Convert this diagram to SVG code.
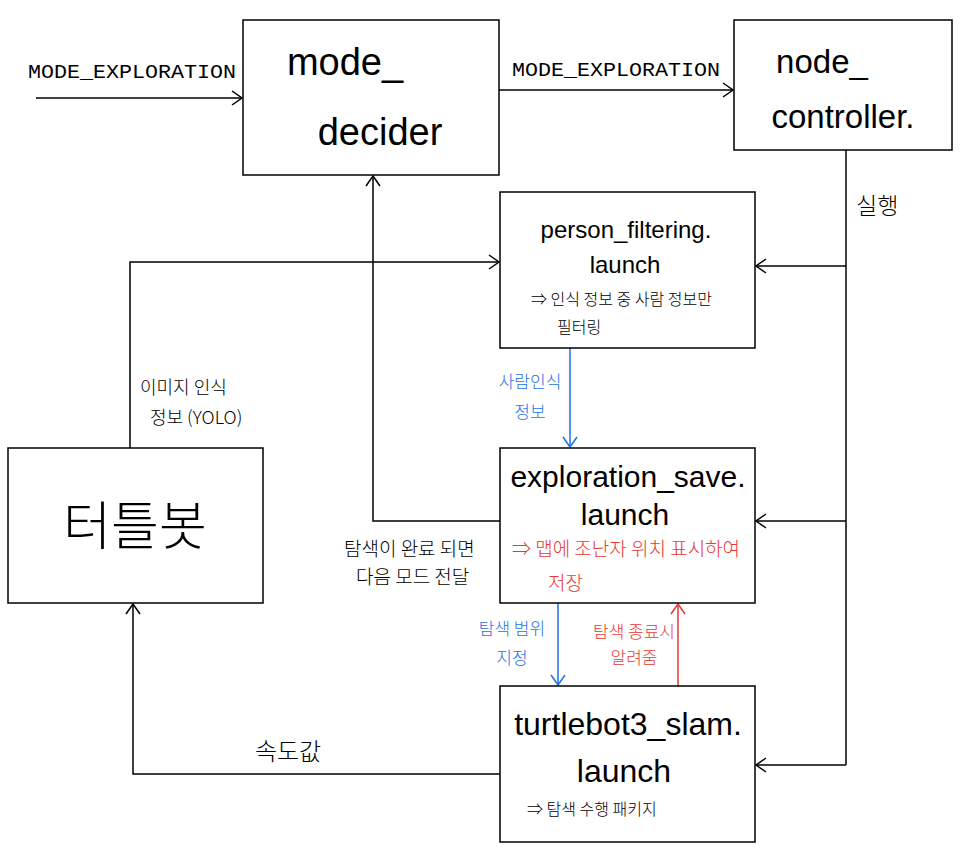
<svg xmlns="http://www.w3.org/2000/svg" width="960" height="852" viewBox="0 0 960 852">
<defs>
<style>
.box{fill:#fff;stroke:#000;stroke-width:1.5}
.ln{fill:none;stroke:#000;stroke-width:1.5}
.blue{fill:none;stroke:#1a73e8;stroke-width:1.5}
.red{fill:none;stroke:#e53935;stroke-width:1.5}
text{font-family:"Liberation Sans","Noto Sans CJK KR",sans-serif;fill:#000}
.t{font-weight:300}
.ko{font-family:"Noto Sans CJK KR",sans-serif;font-weight:300}
.kb{fill:#1a73e8}
.kr{fill:#e53935}
.lbl{font-family:"Liberation Mono","Noto Sans CJK KR",monospace;font-size:20px}
</style>
<marker id="ab" viewBox="0 0 12 16" refX="11" refY="8" markerWidth="12" markerHeight="16" markerUnits="userSpaceOnUse" orient="auto"><path d="M1,1 L11,8 L1,15" fill="none" stroke="#000" stroke-width="1.5"/></marker>
<marker id="abb" viewBox="0 0 12 16" refX="11" refY="8" markerWidth="12" markerHeight="16" markerUnits="userSpaceOnUse" orient="auto"><path d="M1,1 L11,8 L1,15" fill="none" stroke="#1a73e8" stroke-width="1.5"/></marker>
<marker id="abr" viewBox="0 0 12 16" refX="11" refY="8" markerWidth="12" markerHeight="16" markerUnits="userSpaceOnUse" orient="auto"><path d="M1,1 L11,8 L1,15" fill="none" stroke="#e53935" stroke-width="1.5"/></marker>
</defs>
<rect width="960" height="852" fill="#fff"/>

<g id="connectors">
<path class="ln" d="M36,98 H242" marker-end="url(#ab)"/>
<path class="ln" d="M499,90 H733" marker-end="url(#ab)"/>
<path class="ln" d="M846,150 V765"/>
<path class="ln" d="M846,266 H756" marker-end="url(#ab)"/>
<path class="ln" d="M846,521 H756" marker-end="url(#ab)"/>
<path class="ln" d="M846,765 H756" marker-end="url(#ab)"/>
<path class="ln" d="M130,448 V262 H499" marker-end="url(#ab)"/>
<path class="blue" d="M570,348 V447" marker-end="url(#abb)"/>
<path class="ln" d="M500,521 H373 V176" marker-end="url(#ab)"/>
<path class="blue" d="M558,603 V685" marker-end="url(#abb)"/>
<path class="red" d="M678,686 V604" marker-end="url(#abr)"/>
<path class="ln" d="M500,774 H133 V604" marker-end="url(#ab)"/>
<text class="lbl" x="28" y="78" textLength="208" lengthAdjust="spacingAndGlyphs">MODE_EXPLORATION</text>
<text class="lbl" x="512" y="76" textLength="208" lengthAdjust="spacingAndGlyphs">MODE_EXPLORATION</text>
<text class="ko" x="856" y="214" font-size="23">실행</text>
<text class="ko" x="140" y="394" font-size="18">이미지 인식</text>
<text class="ko" x="150" y="424" font-size="18">정보 (YOLO)</text>
<text class="ko kb" x="530" y="388" font-size="17" text-anchor="middle">사람인식</text>
<text class="ko kb" x="530" y="418" font-size="17" text-anchor="middle">정보</text>
<text class="ko" x="344" y="556" font-size="19">탐색이 완료 되면</text>
<text class="ko" x="356" y="584" font-size="19">다음 모드 전달</text>
<text class="ko kb" x="512" y="635" font-size="17" text-anchor="middle">탐색  범위</text>
<text class="ko kb" x="512" y="664" font-size="17" text-anchor="middle">지정</text>
<text class="ko kr" x="634" y="638" font-size="17" text-anchor="middle">탐색 종료시</text>
<text class="ko kr" x="634" y="664" font-size="17" text-anchor="middle">알려줌</text>
<text class="ko" x="288" y="760" font-size="24" text-anchor="middle">속도값</text>
</g>

<g id="mode_decider">
<rect class="box" x="243" y="20" width="256" height="155"/>
<text class="t" x="345" y="75" font-size="38" text-anchor="middle">mode_</text>
<text class="t" x="380" y="145" font-size="38" text-anchor="middle">decider</text>
</g>

<g id="node_controller">
<rect class="box" x="734" y="20" width="218" height="130"/>
<text class="t" x="822" y="73" font-size="33" text-anchor="middle">node_</text>
<text class="t" x="843" y="128" font-size="33" text-anchor="middle">controller.</text>
</g>

<g id="person_filtering">
<rect class="box" x="500" y="192" width="255" height="156"/>
<text class="t" x="626" y="238" font-size="24" text-anchor="middle">person_filtering.</text>
<text class="t" x="625" y="273" font-size="24" text-anchor="middle">launch</text>
<text class="ko" x="531" y="305" font-size="16">⇒ 인식 정보 중  사람 정보만</text>
<text class="ko" x="557" y="333" font-size="16">필터링</text>
</g>

<g id="exploration_save">
<rect class="box" x="500" y="448" width="255" height="155"/>
<text class="t" x="628" y="487" font-size="30" text-anchor="middle">exploration_save.</text>
<text class="t" x="625" y="525" font-size="30" text-anchor="middle">launch</text>
<text class="ko kr" x="512" y="556" font-size="19">⇒ 맵에 조난자 위치 표시하여</text>
<text class="ko kr" x="548" y="590" font-size="19">저장</text>
</g>

<g id="turtlebot3_slam">
<rect class="box" x="500" y="686" width="255" height="156"/>
<text class="t" x="628" y="735" font-size="32" text-anchor="middle">turtlebot3_slam.</text>
<text class="t" x="624" y="782" font-size="32" text-anchor="middle">launch</text>
<text class="ko" x="527" y="815" font-size="16">⇒ 탐색 수행  패키지</text>
</g>

<g id="turtlebot">
<rect class="box" x="8" y="448" width="255" height="155"/>
<text class="ko" x="135" y="545" font-size="52" text-anchor="middle">터틀봇</text>
</g>
</svg>
